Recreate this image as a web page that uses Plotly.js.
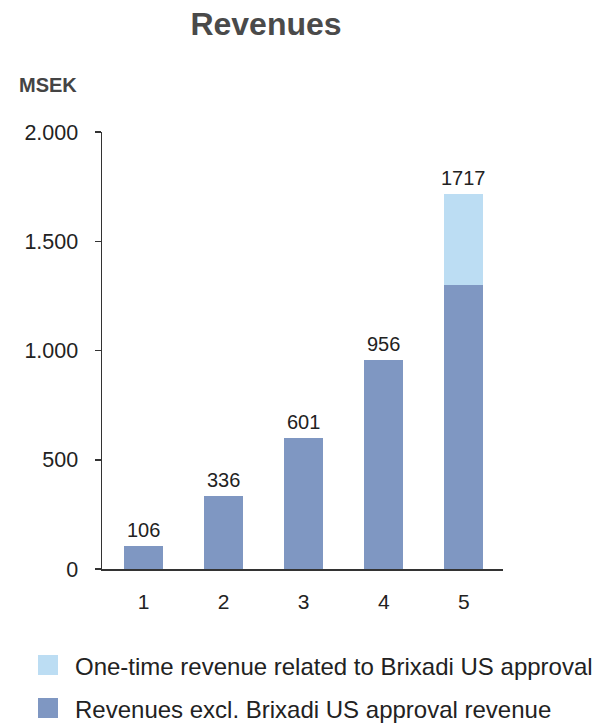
<!DOCTYPE html>
<html>
<head>
<meta charset="utf-8">
<script src="https://cdn.plot.ly/plotly-3.0.1.min.js"></script>
<style>
html,body{margin:0;padding:0;background:#fff;}
#chart{width:597px;height:725px;}
</style>
</head>
<body>
<div id="chart"></div>
<script>
// ---- data ----
const categories = ['1', '2', '3', '4', '5'];
const baseRevenue = [106, 336, 601, 956, 1300];   // Revenues excl. Brixadi US approval revenue
const oneTimeRevenue = [0, 0, 0, 0, 417];          // One-time revenue related to Brixadi US approval
const seriesNames = ['Revenues excl. Brixadi US approval revenue', 'One-time revenue related to Brixadi US approval'];
const yTicks = [0, 500, 1000, 1500, 2000];

const darkBlue = '#7F97C2';
const lightBlue = '#BCDDF3';
const font = 'Liberation Sans, Arial, sans-serif';

const totals = categories.map((c, i) => baseRevenue[i] + oneTimeRevenue[i]);

const traces = [
  {type: 'bar', x: categories, y: baseRevenue, name: seriesNames[0],
   marker: {color: darkBlue}, hoverinfo: 'x+y'},
  {type: 'bar', x: categories, y: oneTimeRevenue, name: seriesNames[1],
   marker: {color: lightBlue}, hoverinfo: 'x+y'}
];

// value labels above each stack (x given as category index)
const annotations = categories.map((c, i) => ({
  x: i, y: totals[i], xref: 'x', yref: 'y', text: String(totals[i]),
  showarrow: false, yanchor: 'bottom', yshift: 3,
  font: {family: font, size: 20, color: '#222'}
}));

// y-unit label
annotations.push({xref: 'paper', yref: 'paper', x: (17 - 102) / 401, y: (569 - 85) / 437,
  xanchor: 'left', yanchor: 'middle', showarrow: false, text: '<b>MSEK</b>',
  font: {family: font, size: 20, color: '#444'}});

// custom legend (light first, then dark)
const legendItems = [
  {name: seriesNames[1], color: lightBlue, cy: 665},
  {name: seriesNames[0], color: darkBlue, cy: 708}
];
const shapes = [];
legendItems.forEach(it => {
  shapes.push({type: 'rect', xref: 'paper', yref: 'paper',
    x0: (38 - 102) / 401, x1: (58 - 102) / 401,
    y0: (569 - (it.cy - 10)) / 437, y1: (569 - (it.cy + 10)) / 437,
    fillcolor: it.color, line: {width: 0}});
  annotations.push({xref: 'paper', yref: 'paper', x: (73 - 102) / 401, y: (569 - (it.cy + 1)) / 437,
    xanchor: 'left', yanchor: 'middle', showarrow: false, text: it.name,
    font: {family: font, size: 24, color: '#222'}});
});

const layout = {
  width: 597, height: 725,
  margin: {l: 102, r: 94, t: 132, b: 156},
  paper_bgcolor: '#fff', plot_bgcolor: '#fff',
  separators: ',.',
  barmode: 'stack',
  bargap: 0.51,
  showlegend: false,
  title: {text: '<b>Revenues</b>', x: 266 / 597, xanchor: 'center', y: 1 - 24 / 725, yanchor: 'middle',
    font: {family: font, size: 32, color: '#4a4a4a'}},
  xaxis: {type: 'category', range: [-0.52, 4.49], showline: true, linecolor: '#333', linewidth: 1.5,
    ticks: '', showgrid: false, zeroline: false, ticklabelstandoff: 13,
    tickfont: {family: font, size: 21, color: '#222'}},
  yaxis: {range: [0, 2000], tickvals: yTicks, tickformat: ',d', showline: true, linecolor: '#333', linewidth: 1.5,
    ticks: 'outside', ticklen: 6, tickwidth: 1.5, tickcolor: '#333', showgrid: false, zeroline: false,
    ticklabelstandoff: 12,
    tickfont: {family: font, size: 21.5, color: '#222'}},
  annotations: annotations,
  shapes: shapes
};

Plotly.newPlot('chart', traces, layout, {displayModeBar: false, staticPlot: true});
</script>
</body>
</html>
